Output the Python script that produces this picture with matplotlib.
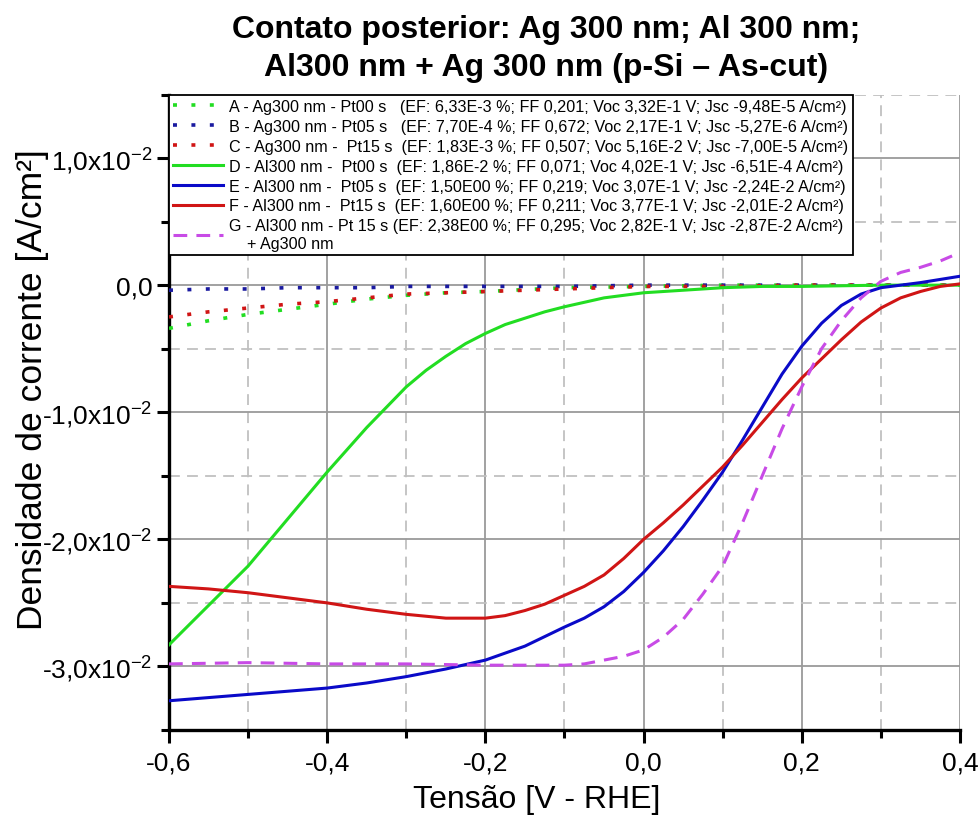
import matplotlib
matplotlib.use("Agg")
import matplotlib.pyplot as plt
from matplotlib.ticker import MultipleLocator, FuncFormatter

plt.rcParams['font.family'] = ['Liberation Sans', 'DejaVu Sans']
plt.rcParams['mathtext.fontset'] = 'custom'
plt.rcParams['mathtext.rm'] = 'Liberation Sans'
plt.rcParams['mathtext.it'] = 'Liberation Sans:italic'
plt.rcParams['mathtext.bf'] = 'Liberation Sans:bold'

# ---------------- data (current density in units of 1e-2 A/cm2) ----------------
x_dot = [-0.6, -0.55, -0.5, -0.45, -0.4, -0.35, -0.3, -0.25, -0.2, -0.1, 0.0, 0.1, 0.2, 0.3, 0.4]
A_y = [-0.34, -0.28, -0.23, -0.19, -0.15, -0.11, -0.08, -0.06, -0.05, -0.02, -0.01, 0.0, 0.0, 0.0, 0.0]
B_y = [-0.04, -0.03, -0.03, -0.02, -0.02, -0.02, -0.01, -0.01, -0.01, -0.01, 0.0, 0.0, 0.0, 0.0, 0.0]
C_y = [-0.25, -0.21, -0.18, -0.15, -0.13, -0.10, -0.07, -0.06, -0.05, -0.03, -0.01, -0.01, 0.0, 0.0, 0.0]

D_x = [-0.6, -0.55, -0.5, -0.45, -0.4, -0.35, -0.3, -0.275, -0.25, -0.225, -0.2, -0.175, -0.15,
       -0.125, -0.1, -0.05, 0.0, 0.05, 0.1, 0.15, 0.2, 0.3, 0.4]
D_y = [-2.83, -2.52, -2.21, -1.84, -1.47, -1.12, -0.80, -0.67, -0.56, -0.46, -0.38, -0.31, -0.26,
       -0.21, -0.17, -0.10, -0.06, -0.04, -0.02, -0.01, -0.01, 0.0, 0.0]

E_x = [-0.6, -0.5, -0.4, -0.35, -0.3, -0.25, -0.2, -0.15, -0.1, -0.075, -0.05, -0.025, 0.0, 0.025,
       0.05, 0.075, 0.1, 0.125, 0.15, 0.175, 0.2, 0.225, 0.25, 0.275, 0.3, 0.35, 0.4]
E_y = [-3.27, -3.22, -3.17, -3.13, -3.08, -3.02, -2.95, -2.84, -2.69, -2.62, -2.53, -2.41, -2.26, -2.09,
       -1.90, -1.69, -1.47, -1.22, -0.96, -0.70, -0.48, -0.30, -0.16, -0.07, -0.02, 0.02, 0.07]

F_x = [-0.6, -0.55, -0.5, -0.45, -0.4, -0.35, -0.3, -0.25, -0.2, -0.175, -0.15, -0.125, -0.1, -0.075,
       -0.05, -0.025, 0.0, 0.025, 0.05, 0.075, 0.1, 0.125, 0.15, 0.175, 0.2, 0.225, 0.25, 0.275,
       0.3, 0.325, 0.35, 0.375, 0.4]
F_y = [-2.37, -2.39, -2.42, -2.46, -2.50, -2.55, -2.59, -2.62, -2.62, -2.60, -2.56, -2.51, -2.44, -2.37,
       -2.28, -2.15, -2.00, -1.87, -1.73, -1.58, -1.43, -1.26, -1.08, -0.90, -0.73, -0.58, -0.43, -0.29,
       -0.18, -0.10, -0.05, -0.01, 0.01]

G_x = [-0.6, -0.5, -0.4, -0.3, -0.2, -0.1, -0.075, -0.05, -0.025, 0.0, 0.025, 0.05, 0.075, 0.1, 0.125,
       0.15, 0.175, 0.2, 0.225, 0.25, 0.275, 0.3, 0.325, 0.35, 0.375, 0.39]
G_y = [-2.98, -2.97, -2.98, -2.98, -2.99, -2.99, -2.98, -2.95, -2.92, -2.87, -2.77, -2.63, -2.43, -2.21,
       -1.87, -1.50, -1.13, -0.80, -0.50, -0.28, -0.10, 0.03, 0.10, 0.14, 0.19, 0.23]

labels = [
    "A - Ag300 nm - Pt00 s   (EF: 6,33E-3 %; FF 0,201; Voc 3,32E-1 V; Jsc -9,48E-5 A/cm²)",
    "B - Ag300 nm - Pt05 s   (EF: 7,70E-4 %; FF 0,672; Voc 2,17E-1 V; Jsc -5,27E-6 A/cm²)",
    "C - Ag300 nm -  Pt15 s  (EF: 1,83E-3 %; FF 0,507; Voc 5,16E-2 V; Jsc -7,00E-5 A/cm²)",
    "D - Al300 nm -  Pt00 s  (EF: 1,86E-2 %; FF 0,071; Voc 4,02E-1 V; Jsc -6,51E-4 A/cm²)",
    "E - Al300 nm -  Pt05 s  (EF: 1,50E00 %; FF 0,219; Voc 3,07E-1 V; Jsc -2,24E-2 A/cm²)",
    "F - Al300 nm -  Pt15 s  (EF: 1,60E00 %; FF 0,211; Voc 3,77E-1 V; Jsc -2,01E-2 A/cm²)",
    "G - Al300 nm - Pt 15 s (EF: 2,38E00 %; FF 0,295; Voc 2,82E-1 V; Jsc -2,87E-2 A/cm²)\n    + Ag300 nm",
]
title = "Contato posterior: Ag 300 nm; Al 300 nm;\nAl300 nm + Ag 300 nm (p-Si – As-cut)"
xlabel = "Tensão [V - RHE]"
ylabel = "Densidade de corrente [A/cm²]"
scale = 1e-2

# ---------------- figure ----------------
fig = plt.figure(figsize=(9.79, 8.28), dpi=100)
ax = fig.add_axes([169 / 979, 1 - 731 / 828, 791 / 979, 635.5 / 828])

def sc(v):
    return [a * scale for a in v]

green, blue, red, purple = '#22dd22', '#0a0ac8', '#d01515', '#c84be6'
dot = dict(lw=2.6, dashes=(1.1, 4.0), dash_capstyle='butt')
ax.plot(x_dot, sc(A_y), color=green, label=labels[0], **dot, zorder=3)
ax.plot(x_dot, sc(B_y), color='#1a1aa0', label=labels[1], **dot, zorder=3)
ax.plot(x_dot, sc(C_y), color=red, label=labels[2], **dot, zorder=3)
ax.plot(D_x, sc(D_y), color=green, lw=2.2, label=labels[3], zorder=4)
ax.plot(E_x, sc(E_y), color=blue, lw=2.2, label=labels[4], zorder=4)
ax.plot(F_x, sc(F_y), color=red, lw=2.2, label=labels[5], zorder=4)
ax.plot(G_x, sc(G_y), color=purple, lw=2.2, dashes=(4.5, 3.0), label=labels[6], zorder=4)

ax.set_xlim(-0.6, 0.4)
ax.set_ylim(-3.5e-2, 1.5e-2)
ax.xaxis.set_major_locator(MultipleLocator(0.2))
ax.xaxis.set_minor_locator(MultipleLocator(0.1))
ax.yaxis.set_major_locator(MultipleLocator(1e-2))
ax.yaxis.set_minor_locator(MultipleLocator(0.5e-2))

def xfmt(v, pos):
    return f"{v:.1f}".replace('.', ',').replace('-0,0', '0,0')

def yfmt(v, pos):
    m = round(v / 1e-2, 1)
    if abs(m) < 1e-9:
        return "0,0"
    return f"{m:.1f}".replace('.', ',') + r"x10$^{-2}$"

ax.xaxis.set_major_formatter(FuncFormatter(xfmt))
ax.yaxis.set_major_formatter(FuncFormatter(yfmt))

ax.grid(which='major', color='#9a9a9a', lw=1.3, ls='-', zorder=1)
ax.grid(which='minor', color='#c0c0c0', lw=1.3, ls=(0, (6, 4)), zorder=1)
ax.set_axisbelow(True)

for s in ['top', 'right']:
    ax.spines[s].set_visible(False)
for s in ['left', 'bottom']:
    ax.spines[s].set_linewidth(2.4)
ax.tick_params(which='major', direction='out', length=9, width=2.2, labelsize=19, pad=6)
ax.tick_params(axis='y', which='major', pad=3)
ax.tick_params(which='minor', direction='out', length=6, width=2.2)

ax.set_xlabel(xlabel, fontsize=23, va='center')
ax.xaxis.set_label_coords((537 - 169) / 791, (731 - 800) / 635.5)
ax.set_ylabel(ylabel, fontsize=25.5, va='center')
ax.yaxis.set_label_coords((32 - 169) / 791, (731 - 390) / 635.5)

fig.text(546 / 979, 1 - 49 / 828, title, ha='center', va='center', fontsize=23,
         fontweight='bold', linespacing=1.35)

leg = ax.legend(loc='upper left', bbox_to_anchor=(0, 1), borderaxespad=0, fontsize=11.6,
                frameon=True, fancybox=False, edgecolor='black', framealpha=1,
                handlelength=3.1, handletextpad=0.4, labelspacing=0.31, borderpad=0.25)
leg.get_frame().set_linewidth(1.3)
leg.set_zorder(10)

fig.savefig("out.png", dpi=100)
